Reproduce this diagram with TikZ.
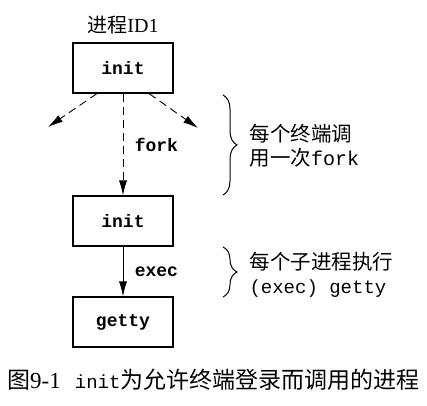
\documentclass[tikz,border=0pt]{standalone}
\usepackage{fontspec}
\setmainfont{Liberation Serif}
\setmonofont{Liberation Mono}
\newfontfamily\cjk{Noto Sans CJK SC}
\usetikzlibrary{arrows.meta,decorations.pathreplacing}
\begin{document}
\begin{tikzpicture}[x=1pt,y=-1pt,
  proc/.style={draw,line width=1.1pt,minimum width=100pt,minimum height=50pt,inner sep=0pt,font=\fontsize{18}{20}\selectfont\ttfamily\bfseries},
  arr/.style={line width=0.9pt,-{Latex[length=15pt,width=8pt]}},
  dasharr/.style={arr,dash pattern=on 8pt off 5pt},
  lbl/.style={font=\fontsize{18}{20}\selectfont\ttfamily\bfseries},
  brc/.style={line width=1pt,decorate,decoration={brace,amplitude=14pt,aspect=0.5}},
  note/.style={align=left,anchor=west,font=\fontsize{20.5}{24}\selectfont\cjk},
]
\useasboundingbox (0,0) rectangle (427,405);
\node[font=\fontsize{20}{22}\selectfont] (pid) at (123,25) {{\cjk 进程}ID1};
\node[proc] (init1) at (123,68) {init};
\node[proc] (init2) at (123,221) {init};
\node[proc] (getty) at (123,322) {getty};
\coordinate (lt) at (48,127);
\coordinate (rt) at (198,128);
\draw[dasharr] (init1.south) ++(-26,0) coordinate (ls) -- (lt);
\draw[dasharr] (init1.south) ++(26,0) coordinate (rs) -- (rt);
\draw[dasharr] (init1.south) -- node[lbl,right=8pt] (fork) {fork} (init2.north);
\draw[arr] (init2.south) -- node[lbl,right=8pt] (exec) {exec} (getty.north);
\coordinate (b1t) at (223,95);
\coordinate (b1b) at (223,195);
\coordinate (b2t) at (223,247);
\coordinate (b2b) at (223,297);
\draw[brc] (b1t) -- (b1b);
\draw[brc] (b2t) -- (b2b);
\node[note] (n1) at (246,146) {每个终端调\\用一次{\fontsize{20}{22}\selectfont\ttfamily fork}};
\node[note] (n2) at (246,275) {每个子进程执行\\{\fontsize{19}{22}\selectfont\ttfamily (exec) getty}};
\node[anchor=west,font=\fontsize{23}{26}\selectfont\cjk,inner sep=0pt] (cap) at (7,380) {图{\rmfamily\fontsize{23}{26}\selectfont 9-1}\hspace{14pt}{\fontsize{19}{22}\selectfont\ttfamily init}为允许终端登录而调用的进程};
\end{tikzpicture}
\end{document}
